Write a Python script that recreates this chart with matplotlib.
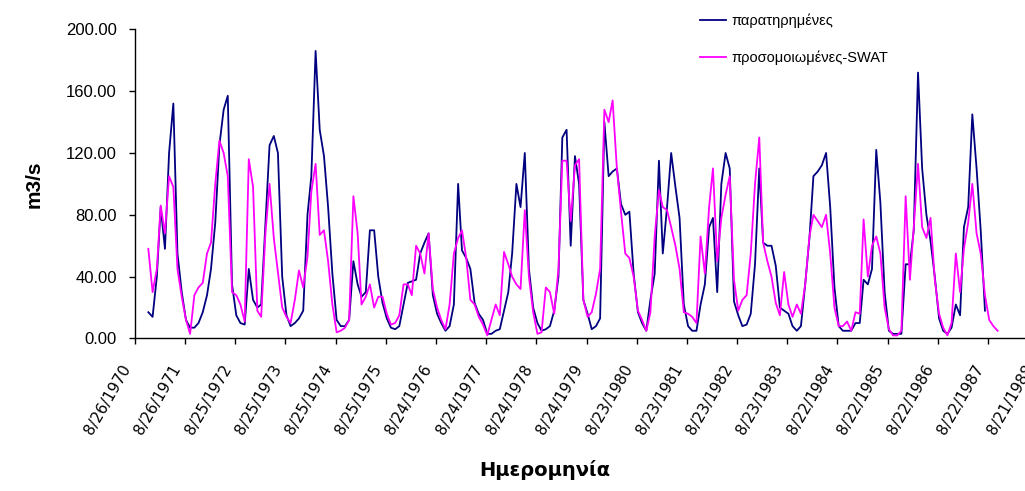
import pandas as pd
import matplotlib
matplotlib.use("Agg")
import matplotlib.pyplot as plt
from matplotlib.transforms import ScaledTranslation

# monthly discharge, m3/s, Dec 1970 - Nov 1987
observed = [
    17, 14, 40, 85, 58, 120, 152, 55, 30, 12, 7, 7,
    10, 17, 28, 45, 75, 125, 148, 157, 35, 15, 10, 9,
    45, 25, 20, 22, 75, 125, 131, 120, 40, 15, 8, 10,
    13, 18, 80, 105, 186, 135, 118, 85, 42, 12, 8, 8,
    12, 50, 35, 27, 30, 70, 70, 40, 23, 13, 7, 6,
    8, 22, 36, 37, 38, 55, 62, 68, 28, 16, 10, 5,
    8, 22, 100, 57, 52, 45, 23, 16, 12, 3, 3, 5,
    6, 18, 30, 55, 100, 85, 120, 45, 20, 10, 5, 6,
    8, 18, 40, 130, 135, 60, 118, 100, 25, 16, 6, 8,
    13, 140, 105, 108, 110, 87, 80, 82, 42, 17, 10, 5,
    25, 42, 115, 55, 85, 120, 98, 78, 22, 8, 5, 5,
    22, 35, 72, 78, 30, 100, 120, 110, 24, 15, 8, 9,
    16, 48, 110, 62, 60, 60, 47, 20, 18, 16, 8, 5,
    8, 35, 65, 105, 108, 112, 120, 85, 33, 8, 5, 5,
    5, 10, 10, 38, 35, 45, 122, 88, 30, 5, 3, 3,
    3, 48, 48, 70, 172, 110, 80, 63, 40, 13, 5, 3,
    7, 22, 15, 72, 85, 145, 110, 70, 18,
]

simulated = [
    58, 30, 45, 86, 68, 105, 98, 45, 27, 12, 3, 28,
    33, 36, 55, 62, 100, 128, 120, 105, 30, 28, 22, 11,
    116, 98, 18, 14, 68, 100, 65, 43, 20, 14, 10, 25,
    44, 33, 53, 95, 113, 67, 70, 50, 22, 4, 5, 7,
    12, 92, 68, 22, 27, 35, 20, 27, 27, 16, 9, 10,
    15, 35, 35, 28, 60, 55, 42, 68, 32, 20, 12, 6,
    22, 55, 65, 70, 52, 25, 22, 14, 9, 2, 12, 22,
    15, 56, 48, 40, 35, 32, 83, 40, 17, 3, 4, 33,
    30, 16, 45, 115, 115, 76, 112, 116, 25, 14, 17, 29,
    45, 148, 140, 154, 110, 82, 55, 52, 40, 18, 12, 5,
    17, 66, 96, 85, 83, 72, 60, 45, 17, 16, 14, 10,
    66, 42, 85, 110, 50, 78, 93, 105, 38, 18, 25, 28,
    55, 100, 130, 62, 50, 40, 23, 15, 43, 22, 14, 22,
    16, 35, 66, 80, 76, 72, 80, 55, 20, 8, 8, 11,
    5, 17, 16, 77, 40, 60, 66, 55, 20, 6, 2, 2,
    5, 92, 38, 72, 113, 72, 65, 78, 38, 16, 7, 2,
    10, 55, 30, 58, 75, 100, 68, 55, 28, 12, 8, 5,
]

dates = pd.date_range("1970-12-01", periods=len(simulated), freq="MS")
tick_dates = [pd.Timestamp("1970-08-26") + pd.Timedelta(days=365 * k) for k in range(19)]
tick_labels = [f"{d.month}/{d.day}/{d.year}" for d in tick_dates]

fig = plt.figure(figsize=(10.25, 4.91), dpi=100)
ax = fig.add_axes([0.1317, 0.3106, 0.881, 0.6297])

ax.plot(dates[:len(observed)], observed, color="#000080", lw=1.3, label="παρατηρημένες")
ax.plot(dates, simulated, color="#FF00FF", lw=1.3, label="προσομοιωμένες-SWAT")

ax.set_xlim(tick_dates[0], tick_dates[-1])
ax.set_ylim(0, 200)
ax.set_yticks(range(0, 201, 40))
ax.set_yticklabels([f"{v:.2f}" for v in range(0, 201, 40)], fontsize=12, family="Liberation Sans")
ax.set_xticks(tick_dates)
ax.tick_params(axis="both", direction="out", length=4, width=1, color="black")
ax.tick_params(axis="x", pad=13)
ax.tick_params(axis="y", pad=9)
ax.set_xticklabels(tick_labels, rotation=60, ha="right", va="top",
                   rotation_mode="anchor", fontsize=11, family="DejaVu Sans")

# nudge the rotated date labels left so they end under their ticks
shift = ScaledTranslation(-14 / 100, 0, fig.dpi_scale_trans)
for lbl in ax.get_xticklabels():
    lbl.set_transform(lbl.get_transform() + shift)

for side in ("top", "right"):
    ax.spines[side].set_visible(False)
for side in ("left", "bottom"):
    ax.spines[side].set_color("black")
    ax.spines[side].set_linewidth(1)

ax.set_ylabel("m3/s", fontsize=15, fontweight="bold", family="Liberation Sans", labelpad=16)
fig.text(0.532, 0.042, "Ημερομηνία", fontsize=14, fontweight="bold",
         family="DejaVu Sans", ha="center", va="center")

ax.legend(loc="upper left", bbox_to_anchor=(700 / 1025, 1 - 14 / 491),
          bbox_transform=fig.transFigure, frameon=False,
          prop={"family": "Liberation Sans", "size": 10.5},
          handlelength=1.8, handletextpad=0.35, labelspacing=1.5,
          borderpad=0, borderaxespad=0)

fig.savefig("out.png", dpi=100)
